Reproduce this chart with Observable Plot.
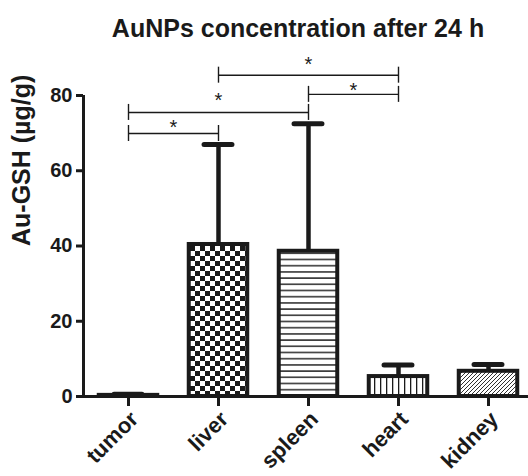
<!DOCTYPE html>
<html>
<head>
<meta charset="utf-8">
<script src="https://cdn.jsdelivr.net/npm/d3@7"></script>
<script src="https://cdn.jsdelivr.net/npm/@observablehq/plot@0.6"></script>
<style>
  body { margin: 0; background: #ffffff; font-family: "Liberation Sans", Arial, sans-serif; }
  #title { width: 460px; height: 30px; padding-top: 16px; padding-left: 68px; box-sizing: content-box;
           text-align: center; font-size: 25px; line-height: 25px; font-weight: bold; color: #1a1a1a; white-space: nowrap; }
  #chart svg { display: block; }
</style>
</head>
<body>
<div id="title">AuNPs concentration after 24 h</div>
<div id="chart"></div>
<script>
// ---- data ----
const categories = ["tumor", "liver", "spleen", "heart", "kidney"];
const means      = [0.3, 40.4, 38.6, 5.3, 6.7];
const errors     = [0.3, 26.6, 33.9, 3.1, 1.8];
const patterns   = ["white", "url(#p-checker)", "url(#p-hlines)", "url(#p-vlines)", "url(#p-diag)"];
const yTicks     = [0, 20, 40, 60, 80];
// significance brackets: from category, to category, bracket level, star level
const bracketFrom  = ["liver", "spleen", "tumor", "tumor"];
const bracketTo    = ["heart", "heart", "spleen", "liver"];
const bracketLevel = [85.4, 80.3, 75.5, 69.9];
const starLevel    = [89.6, 82.7, 80.1, 72.9];

const bars = categories.map((c, i) => ({i, cat: c, mean: means[i], upper: means[i] + errors[i], fill: patterns[i]}));
const idx = c => categories.indexOf(c);
const brackets = bracketFrom.map((a, k) => ({a: idx(a), b: idx(bracketTo[k]), level: bracketLevel[k], star: starLevel[k]}));
const bracketEnds = brackets.flatMap(d => [{x: d.a, level: d.level}, {x: d.b, level: d.level}]);

const half = 0.325, capHalf = 0.155;
const ink = "#1a1a1a";

const chart = Plot.plot({
  width: 528,
  height: 430,
  marginLeft: 83,
  marginRight: -5,
  marginTop: 49,
  marginBottom: 80,
  style: {fontFamily: "Liberation Sans, Arial, sans-serif", color: ink, background: "#ffffff", overflow: "visible"},
  x: {type: "linear", domain: [-0.5, categories.length - 0.5], axis: null},
  y: {domain: [0, 80]},
  color: {type: "identity"},
  marks: [
    Plot.rectY(bars, {x1: d => d.i - half, x2: d => d.i + half, y: "mean", fill: "fill", stroke: ink, strokeWidth: 4}),
    Plot.ruleX(bars, {x: "i", y1: "mean", y2: "upper", stroke: ink, strokeWidth: 4.5}),
    Plot.ruleY(bars, {y: "upper", x1: d => d.i - capHalf, x2: d => d.i + capHalf, stroke: ink, strokeWidth: 5, strokeLinecap: "round"}),
    Plot.ruleY([0], {stroke: ink, strokeWidth: 3}),
    Plot.ruleX([-0.5], {stroke: ink, strokeWidth: 3}),
    Plot.axisY({ticks: yTicks, tickSize: 7, tickPadding: 4, fontSize: 20, fontWeight: "bold", strokeWidth: 3, label: null}),
    // x ticks and rotated category labels
    Plot.ruleX(bars, {x: "i", y1: 0, y2: 0, insetTop: 0, insetBottom: -10, stroke: ink, strokeWidth: 3}),
    Plot.text(bars, {x: "i", y: 0, text: "cat", rotate: -45, textAnchor: "end", dx: 6, dy: 19,
                     fontSize: 22, fontWeight: "bold", fill: ink}),
    Plot.text(["Au-GSH (µg/g)"], {frameAnchor: "left", rotate: -90, dx: -62, fontSize: 25, fontWeight: "bold", fill: ink}),
    Plot.link(brackets, {x1: "a", x2: "b", y1: "level", y2: "level", stroke: ink, strokeWidth: 1.4}),
    Plot.ruleX(bracketEnds, {x: "x", y1: "level", y2: "level", insetTop: -8, insetBottom: -8, stroke: ink, strokeWidth: 1.4}),
    Plot.text(brackets, {x: d => (d.a + d.b) / 2, y: "star", text: () => "*", fontSize: 20, dy: 5, fill: ink})
  ]
});

const svg = d3.select(chart);
const defs = svg.insert("defs", ":first-child");
// checkerboard
const pc = defs.append("pattern").attr("id", "p-checker").attr("patternUnits", "userSpaceOnUse").attr("width", 10).attr("height", 10);
pc.append("rect").attr("width", 10).attr("height", 10).attr("fill", "white");
pc.append("rect").attr("width", 5).attr("height", 5).attr("fill", ink);
pc.append("rect").attr("x", 5).attr("y", 5).attr("width", 5).attr("height", 5).attr("fill", ink);
// horizontal lines
const ph = defs.append("pattern").attr("id", "p-hlines").attr("patternUnits", "userSpaceOnUse").attr("width", 6).attr("height", 6.2);
ph.append("rect").attr("width", 6).attr("height", 6.2).attr("fill", "white");
ph.append("rect").attr("y", 2).attr("width", 6).attr("height", 1.4).attr("fill", ink);
// vertical lines
const pv = defs.append("pattern").attr("id", "p-vlines").attr("patternUnits", "userSpaceOnUse").attr("width", 6).attr("height", 6);
pv.append("rect").attr("width", 6).attr("height", 6).attr("fill", "white");
pv.append("rect").attr("x", 2).attr("width", 1.3).attr("height", 6).attr("fill", ink);
// diagonal hatch
const pd = defs.append("pattern").attr("id", "p-diag").attr("patternUnits", "userSpaceOnUse").attr("width", 4).attr("height", 4);
pd.append("rect").attr("width", 4).attr("height", 4).attr("fill", "white");
pd.append("path").attr("d", "M-1,1 l2,-2 M0,4 l4,-4 M3,5 l2,-2").attr("stroke", ink).attr("stroke-width", 0.9);

document.getElementById("chart").appendChild(chart);
</script>
</body>
</html>
